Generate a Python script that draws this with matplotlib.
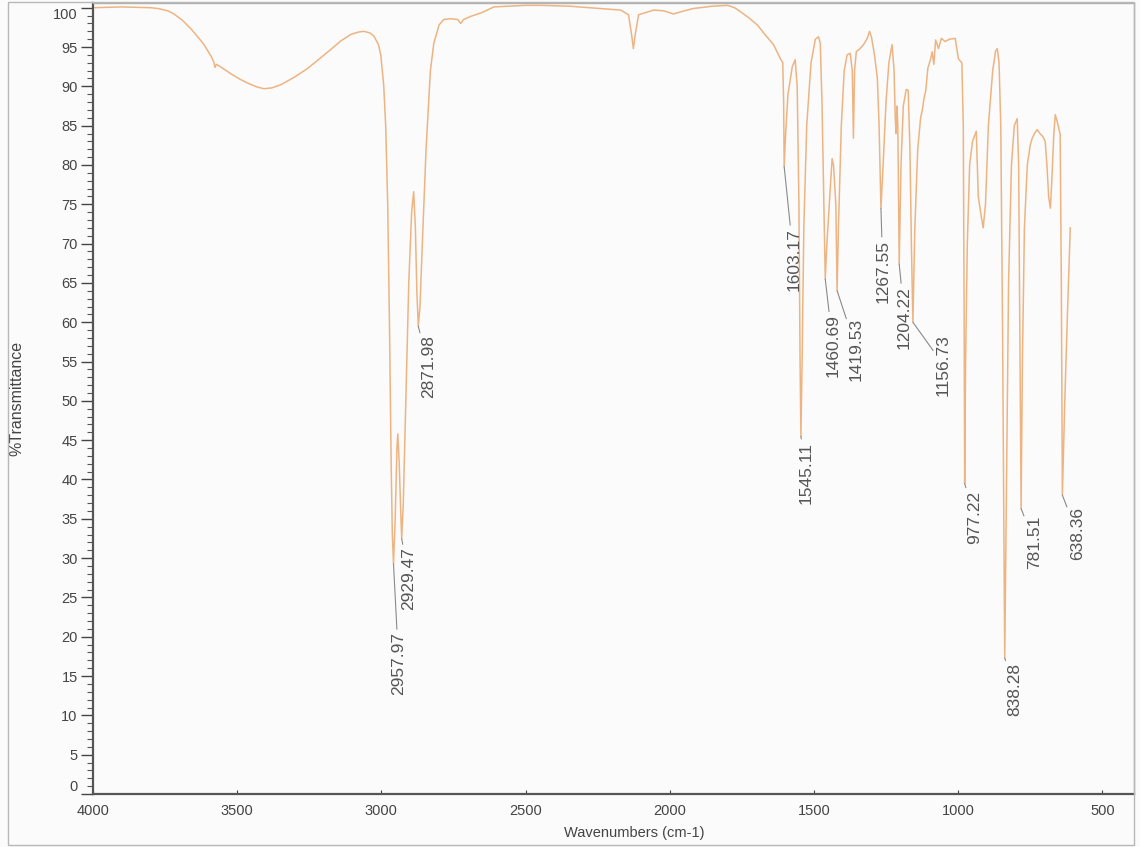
import matplotlib
matplotlib.use("Agg")
import matplotlib.pyplot as plt
from matplotlib.ticker import MultipleLocator
from matplotlib.patches import Rectangle

# ---- data ----
wavenumber = [
    4000, 3900, 3800, 3775, 3740, 3719, 3690, 3660, 3630, 3615, 3590, 3581, 3577, 3572,
    3550, 3522, 3490, 3463, 3430, 3407, 3380, 3349, 3300, 3255, 3215, 3175, 3140, 3106,
    3080, 3061, 3040, 3026, 3010, 3002, 2992, 2985, 2978, 2972, 2966, 2962, 2957.97,
    2952, 2946, 2943, 2938, 2933, 2929.47, 2924, 2915, 2905, 2895, 2888, 2882, 2877,
    2871.98, 2866, 2858, 2845, 2830, 2818, 2800, 2784, 2760, 2735, 2725, 2715, 2690,
    2650, 2610, 2500, 2447, 2350, 2240, 2170, 2143, 2132, 2126, 2120, 2108, 2056, 2020,
    1987, 1950, 1918, 1850, 1800, 1775, 1755, 1725, 1696, 1670, 1640, 1616, 1608, 1605,
    1603.17, 1598, 1590, 1575, 1565, 1558, 1552, 1548, 1545.11, 1541, 1535, 1525, 1510,
    1495, 1484, 1478, 1472, 1466, 1460.69, 1455, 1445, 1437, 1432, 1428, 1424, 1419.53,
    1415, 1405, 1395, 1385, 1374, 1367, 1363, 1359, 1353, 1340, 1328, 1315, 1307, 1300,
    1290, 1280, 1274, 1267.55, 1260, 1250, 1240, 1229, 1222, 1218, 1215, 1212, 1209,
    1204.22, 1198, 1190, 1180, 1173, 1167, 1162, 1156.73, 1150, 1140, 1130, 1124, 1118,
    1112, 1105, 1095, 1090, 1084, 1078, 1068, 1058, 1045, 1030, 1010, 999, 987, 982, 979,
    977.22, 974, 968, 960, 950, 940, 937, 930, 920, 913, 905, 895, 880, 870, 864, 858,
    852, 846, 838.28, 832, 825, 815, 805, 795, 790, 786, 781.51, 777, 770, 760, 750, 743,
    735, 726, 716, 706, 698, 692, 686, 680, 675, 668, 663, 656, 650, 646, 642, 638.36,
    630, 620, 611,
]
transmittance = [
    100.0, 100.1, 100.0, 99.9, 99.6, 99.2, 98.4, 97.3, 96.0, 95.3, 93.8, 93.1, 92.4, 92.8,
    92.3, 91.6, 90.9, 90.4, 89.9, 89.7, 89.8, 90.2, 91.2, 92.3, 93.5, 94.7, 95.8, 96.6,
    96.9, 97.0, 96.8, 96.4, 95.3, 94.0, 90.2, 85.0, 75.0, 60.0, 42.0, 33.0, 29.3,
    35.0, 44.0, 45.8, 42.0, 36.0, 32.5, 37.0, 50.0, 65.0, 74.0, 76.6, 72.0, 64.0,
    59.5, 62.0, 70.0, 82.0, 92.0, 95.5, 97.8, 98.5, 98.6, 98.5, 98.0, 98.5, 98.9,
    99.4, 100.1, 100.3, 100.3, 100.2, 99.9, 99.7, 99.1, 96.5, 94.8, 96.5, 99.1, 99.7, 99.6,
    99.2, 99.6, 99.9, 100.2, 100.3, 100.0, 99.5, 98.7, 97.8, 96.6, 95.3, 93.5, 93.0, 88.0,
    79.8, 84.0, 89.0, 92.5, 93.4, 90.0, 75.0, 55.0, 45.5, 55.0, 72.0, 85.0, 93.0,
    96.0, 96.3, 95.5, 88.0, 76.0, 65.5, 70.0, 76.0, 80.8, 80.0, 77.5, 75.0, 64.0,
    72.0, 85.0, 92.0, 94.0, 94.2, 92.0, 83.4, 92.0, 94.4, 94.8, 95.3, 96.1, 97.0, 96.2,
    94.0, 91.0, 85.0, 74.5, 80.0, 88.0, 93.0, 95.3, 92.0, 86.0, 84.0, 87.5, 85.0,
    67.4, 80.0, 87.5, 89.6, 89.5, 82.0, 70.0, 60.0, 72.0, 82.0, 86.0, 87.0, 88.5,
    89.5, 92.3, 93.5, 94.4, 92.8, 95.9, 94.8, 96.1, 95.7, 96.0, 96.1, 93.5, 93.0, 85.0, 60.0,
    39.5, 55.0, 70.0, 80.0, 83.0, 84.0, 84.3, 76.0, 73.5, 72.0, 75.0, 85.0, 92.0, 94.5, 94.8, 93.0,
    85.0, 60.0, 17.3, 40.0, 65.0, 80.0, 85.0, 85.9, 80.0, 60.0, 36.3, 55.0, 72.0, 80.0, 82.5, 83.4,
    84.0, 84.5, 84.0, 83.6, 83.0, 80.0, 76.0, 74.5, 78.0, 84.0, 86.4, 85.5, 84.5, 83.9, 65.0, 38.0,
    50.0, 62.0, 72.0,
]

peak_labels = ["2957.97", "2929.47", "2871.98", "1603.17", "1545.11", "1460.69", "1419.53",
               "1267.55", "1204.22", "1156.73", "977.22", "838.28", "781.51", "638.36"]
peak_wn = [2957.97, 2929.47, 2871.98, 1603.17, 1545.11, 1460.69, 1419.53,
           1267.55, 1204.22, 1156.73, 977.22, 838.28, 781.51, 638.36]
peak_T = [29.3, 32.5, 59.5, 79.8, 45.5, 65.5, 64.0, 74.5, 67.4, 60.0, 39.5, 17.3, 36.3, 38.0]
label_wn = [2940, 2905, 2836, 1570, 1528, 1434, 1352, 1261, 1186, 1051, 944, 802, 736, 587]
label_T = [20.6, 31.4, 58.3, 72.0, 44.8, 61.0, 60.5, 70.5, 64.6, 58.5, 38.6, 16.6, 35.4, 36.5]

x_ticks = [4000, 3500, 3000, 2500, 2000, 1500, 1000, 500]
y_ticks = list(range(0, 101, 5))

# ---- figure ----
plt.rcParams['font.family'] = ['Liberation Sans', 'DejaVu Sans']
W, H = 1140, 847
fig = plt.figure(figsize=(W / 100, H / 100), dpi=100)
fig.patch.set_facecolor('#fbfbfc')

# outer page frame
fig.patches.append(Rectangle((8 / W, 2 / H), (1134 - 8) / W, (845 - 2) / H,
                             transform=fig.transFigure, fill=False,
                             edgecolor='#b8b8b8', linewidth=1.0))

ax = fig.add_axes([93 / W, 1 - 794 / H, (1134 - 93) / W, (794 - 3) / H])
ax.set_facecolor('#fbfbfc')

ax.plot(wavenumber, transmittance, color='#EDB482', linewidth=1.1)

for lab, pw, pt, lw_, lt in zip(peak_labels, peak_wn, peak_T, label_wn, label_T):
    ax.annotate(lab, xy=(pw, pt), xytext=(lw_, lt), textcoords='data',
                rotation=90, ha='center', va='top', fontsize=12.5, color='#555555',
                arrowprops=dict(arrowstyle='-', color='#8a8a8a', lw=0.8,
                                shrinkA=0, shrinkB=0))

ax.set_xlim(4000, 390)
ax.set_ylim(0, 100.6)
ax.set_xticks(x_ticks)
ax.set_yticks(y_ticks)
ax.yaxis.set_minor_locator(MultipleLocator(1))

ax.tick_params(axis='y', which='major', length=9, width=1.0, direction='out',
               pad=2, labelsize=10.5, colors='#444444')
ax.tick_params(axis='y', which='minor', length=4, width=0.8, direction='out', colors='#555555')
ax.tick_params(axis='x', which='major', length=3, width=0.8, direction='in',
               pad=7, labelsize=10.5, colors='#444444')

ylabs = ax.get_yticklabels()
ylabs[0].set_va('bottom')
ylabs[-1].set_va('top')

for side in ['left', 'bottom']:
    ax.spines[side].set_color('#555555')
    ax.spines[side].set_linewidth(1.6)
for side in ['top', 'right']:
    ax.spines[side].set_color('#b0b0b0')
    ax.spines[side].set_linewidth(1.0)

ax.set_xlabel('Wavenumbers (cm-1)', fontsize=10.5, color='#444444')
ax.xaxis.set_label_coords(0.52, -0.040)
ax.set_ylabel('%Transmittance', fontsize=11.5, color='#444444')
ax.yaxis.set_label_coords(-0.066, 0.5)

fig.savefig('out.png', dpi=100, facecolor=fig.get_facecolor())
